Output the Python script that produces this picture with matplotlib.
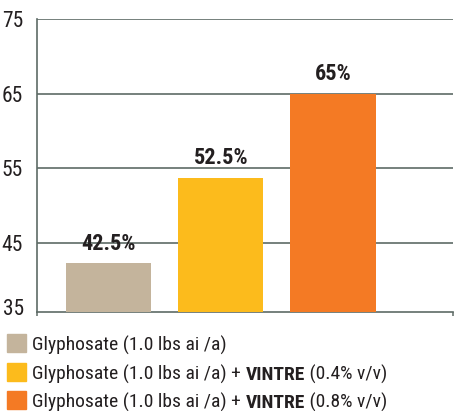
import matplotlib.pyplot as plt
from matplotlib.patches import Rectangle

# values
treatments = ['Glyphosate (1.0 lbs ai /a)',
              'Glyphosate (1.0 lbs ai /a) + VINTRE (0.4% v/v)',
              'Glyphosate (1.0 lbs ai /a) + VINTRE (0.8% v/v)']
bar_heights = [42.2, 53.7, 65.0]
bar_labels = ['42.5%', '52.5%', '65%']
bar_colors = ['#c4b49c', '#fcbb1c', '#f47a24']
legend_prefix = ['Glyphosate (1.0 lbs ai /a)', 'Glyphosate (1.0 lbs ai /a) + ', 'Glyphosate (1.0 lbs ai /a) + ']
legend_bold = ['', 'VINTRE', 'VINTRE']
legend_suffix = ['', ' (0.4% v/v)', ' (0.8% v/v)']
y_ticks = [45, 55, 65, 75]

FONT = ['Roboto Condensed', 'Archivo Narrow', 'Barlow Condensed', 'DejaVu Sans']
plt.rcParams['font.family'] = FONT
ink = '#231f20'
grid_col = '#5e6b66'

fig = plt.figure(figsize=(4.62, 4.11), dpi=100)
ax = fig.add_axes([0.080, 0.241, 0.9005, 0.7128])

bottom = 35.7
xs = range(len(bar_heights))
bars = ax.bar(xs, [h - bottom for h in bar_heights], bottom=bottom, width=0.76,
              color=bar_colors, zorder=3)
for b, lab in zip(bars, bar_labels):
    ax.annotate(lab, (b.get_x() + b.get_width() / 2, b.get_y() + b.get_height()),
                xytext=(0, 6), textcoords='offset points', ha='center', va='bottom',
                fontsize=16, fontweight='bold', color=ink, zorder=4)

ax.set_xlim(-0.64, 3.07)
ax.set_ylim(bottom, 75)
ax.set_yticks(y_ticks)
ax.set_yticklabels([str(t) for t in y_ticks], fontsize=15.5, color=ink)
ax.text(-0.03, bottom + 0.7, '35', transform=ax.get_yaxis_transform(), ha='right', va='center_baseline',
        fontsize=15.5, color=ink)
ax.tick_params(axis='y', length=0, pad=10)
ax.set_xticks([-0.64, 3.07])
ax.set_xticklabels([])
ax.tick_params(axis='x', length=3, width=1.1, color=grid_col, direction='out')
ax.yaxis.grid(True, color=grid_col, linewidth=1.2, zorder=1)
for s in ['top', 'right']:
    ax.spines[s].set_visible(False)
for s in ['left', 'bottom']:
    ax.spines[s].set_color(grid_col)
    ax.spines[s].set_linewidth(1.2)

# legend with bold product name
row_y = [0.1436, 0.073, 0.006]
for i in range(len(treatments)):
    fig.patches.append(Rectangle((7 / 462, row_y[i]), 19 / 462, 18 / 411,
                                 transform=fig.transFigure, color=bar_colors[i]))
    t = fig.text(32 / 462, row_y[i] + 0.002, legend_prefix[i], fontsize=14, color=ink,
                 va='baseline')
    if legend_bold[i]:
        t2 = plt.annotate(legend_bold[i], xy=(1, 0), xycoords=t, va='bottom',
                          fontsize=14, fontweight='bold', color=ink)
        plt.annotate(legend_suffix[i], xy=(1, 0), xycoords=t2, va='bottom',
                     fontsize=14, color=ink)

fig.savefig('out.png', dpi=100)
